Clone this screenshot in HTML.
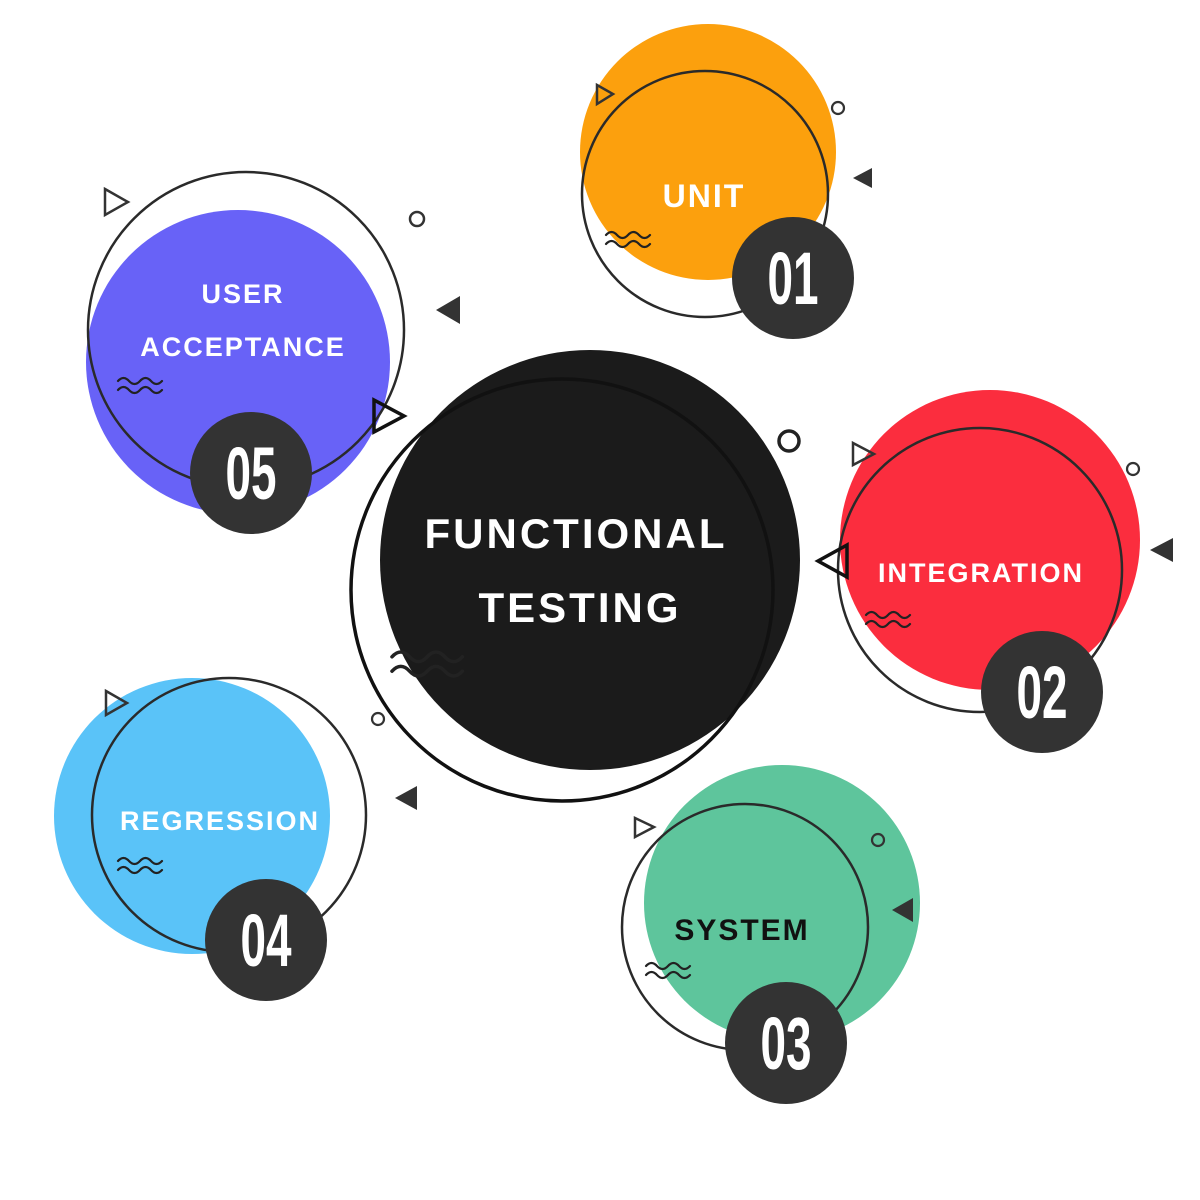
<!DOCTYPE html>
<html><head><meta charset="utf-8"><style>
html,body{margin:0;padding:0;background:#fff;}
svg{display:block;}
.lbl{font-family:"Liberation Sans",sans-serif;font-weight:bold;letter-spacing:2px;text-anchor:middle;}
.big{letter-spacing:3px;}
.num{font-family:"Liberation Sans",sans-serif;font-weight:bold;fill:#fff;text-anchor:middle;}
</style></head><body>
<svg width="1200" height="1200" viewBox="0 0 1200 1200" xmlns="http://www.w3.org/2000/svg">
<defs>
<g id="wave" fill="none" stroke="#222" stroke-width="2.2" stroke-linecap="round">
<path d="M0,3 q5.5,-6 11,0 t11,0 t11,0 t11,0"/>
<path d="M0,12 q5.5,-6 11,0 t11,0 t11,0 t11,0"/>
</g>
</defs>
<rect width="1200" height="1200" fill="#fff"/>

<circle cx="590" cy="560" r="210" fill="#1b1b1b"/>
<circle cx="562" cy="590" r="211" fill="none" stroke="#111" stroke-width="3.5"/>
<circle cx="789" cy="441" r="10" fill="none" stroke="#222" stroke-width="3.5"/>
<g transform="translate(392,652) scale(1.6)"><use href="#wave"/></g>
<text class="lbl big" x="576" y="548" font-size="42" fill="#fff">FUNCTIONAL</text>
<text class="lbl big" x="580" y="622" font-size="42" fill="#fff">TESTING</text>

<circle cx="708" cy="152" r="128" fill="#fca00d"/>
<circle cx="705" cy="194" r="123" fill="none" stroke="#2a2a2a" stroke-width="2.5"/>
<polygon points="597,85 613,94 597,104" fill="none" stroke="#333" stroke-width="2.5"/>
<circle cx="838" cy="108" r="6" fill="none" stroke="#333" stroke-width="2.2"/>
<polygon points="853,178 872,168 872,188" fill="#333"/>
<use href="#wave" x="606" y="232"/>
<text class="lbl" x="704" y="207" font-size="32" fill="#fff">UNIT</text>
<circle cx="793" cy="278" r="61" fill="#333"/>
<text class="num" font-size="74" transform="translate(793,304) scale(0.62,1)">01</text>

<circle cx="238" cy="362" r="152" fill="#6862f7"/>
<circle cx="246" cy="330" r="158" fill="none" stroke="#2a2a2a" stroke-width="2.5"/>
<polygon points="105,189 128,202 105,215" fill="none" stroke="#333" stroke-width="2.5"/>
<circle cx="417" cy="219" r="7" fill="none" stroke="#333" stroke-width="2.5"/>
<polygon points="436,310 460,296 460,324" fill="#333"/>
<polygon points="374,400 404,416 374,432" fill="none" stroke="#111" stroke-width="3.5"/>
<use href="#wave" x="118" y="378"/>
<text class="lbl" x="243" y="303" font-size="27" fill="#fff">USER</text>
<text class="lbl" x="243" y="356" font-size="27" fill="#fff">ACCEPTANCE</text>
<circle cx="251" cy="473" r="61" fill="#333"/>
<text class="num" font-size="74" transform="translate(251,499) scale(0.62,1)">05</text>

<circle cx="990" cy="540" r="150" fill="#fb2d3e"/>
<circle cx="980" cy="570" r="142" fill="none" stroke="#2a2a2a" stroke-width="2.5"/>
<polygon points="853,443 874,454 853,465" fill="none" stroke="#333" stroke-width="2.5"/>
<circle cx="1133" cy="469" r="6" fill="none" stroke="#333" stroke-width="2.2"/>
<polygon points="1150,550 1173,538 1173,562" fill="#333"/>
<polygon points="847,545 818,561 847,577" fill="none" stroke="#111" stroke-width="3.5"/>
<use href="#wave" x="866" y="612"/>
<text class="lbl" x="981" y="582" font-size="27" fill="#fff">INTEGRATION</text>
<circle cx="1042" cy="692" r="61" fill="#333"/>
<text class="num" font-size="74" transform="translate(1042,718) scale(0.62,1)">02</text>

<circle cx="782" cy="903" r="138" fill="#5ec59c"/>
<circle cx="745" cy="927" r="123" fill="none" stroke="#2a2a2a" stroke-width="2.5"/>
<polygon points="635,818 654,827 635,837" fill="none" stroke="#333" stroke-width="2.5"/>
<circle cx="878" cy="840" r="6" fill="none" stroke="#333" stroke-width="2.2"/>
<polygon points="892,910 913,898 913,922" fill="#333"/>
<use href="#wave" x="646" y="963"/>
<text class="lbl" x="742" y="940" font-size="30" fill="#111">SYSTEM</text>
<circle cx="786" cy="1043" r="61" fill="#333"/>
<text class="num" font-size="74" transform="translate(786,1069) scale(0.62,1)">03</text>

<circle cx="192" cy="816" r="138" fill="#5ac3f8"/>
<circle cx="229" cy="815" r="137" fill="none" stroke="#2a2a2a" stroke-width="2.5"/>
<polygon points="106,691 127,703 106,715" fill="none" stroke="#333" stroke-width="2.5"/>
<circle cx="378" cy="719" r="6" fill="none" stroke="#333" stroke-width="2.2"/>
<polygon points="395,798 417,786 417,810" fill="#333"/>
<use href="#wave" x="118" y="858"/>
<text class="lbl" x="220" y="830" font-size="27" fill="#fff">REGRESSION</text>
<circle cx="266" cy="940" r="61" fill="#333"/>
<text class="num" font-size="74" transform="translate(266,966) scale(0.62,1)">04</text>
</svg>
</body></html>
